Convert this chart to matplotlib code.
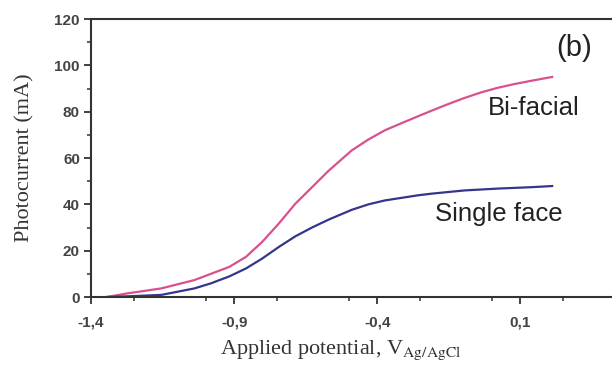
import numpy as np
import matplotlib
matplotlib.use("Agg")
import matplotlib.pyplot as plt
from matplotlib.ticker import MultipleLocator, FixedLocator

# Photocurrent vs applied potential
potential_bi = [-1.345, -1.271, -1.155, -1.039, -0.917, -0.859, -0.802, -0.744,
                -0.686, -0.628, -0.57, -0.49, -0.431, -0.373, -0.316, -0.258,
                -0.211, -0.154, -0.096, -0.038, 0.02, 0.078, 0.136, 0.211]
current_bi = [0.0, 1.6, 3.7, 7.3, 13.0, 17.3, 23.8, 31.7,
              40.3, 47.4, 54.5, 63.2, 68.0, 72.0, 75.0, 78.0,
              80.4, 83.2, 85.9, 88.3, 90.3, 91.9, 93.3, 95.0]

potential_single = [-1.345, -1.271, -1.155, -1.039, -0.981, -0.917, -0.859, -0.802,
                    -0.744, -0.686, -0.628, -0.57, -0.49, -0.431, -0.373, -0.258,
                    -0.211, -0.154, -0.096, 0.02, 0.136, 0.211]
current_single = [0.0, 0.3, 0.9, 3.7, 5.9, 8.9, 12.3, 16.6,
                  21.6, 26.2, 30.0, 33.4, 37.6, 40.0, 41.7, 43.9,
                  44.6, 45.3, 46.0, 46.8, 47.4, 47.9]

x_ticks = [-1.4, -0.9, -0.4, 0.1]
x_ticklabels = ["-1,4", "-0,9", "-0,4", "0,1"]

plt.rcParams['mathtext.fontset'] = 'stix'

fig = plt.figure(figsize=(6.12, 3.66), dpi=100)
ax = fig.add_axes([0.1487, 0.1885, 0.8513, 0.7595])

ax.plot(potential_bi, current_bi, color='#d9508f', lw=1.6)
ax.plot(potential_single, current_single, color='#35358c', lw=1.6)

ax.set_xlim(-1.4, 0.42)
ax.set_ylim(0, 120)

ax.xaxis.set_major_locator(FixedLocator(x_ticks))
ax.set_xticklabels(x_ticklabels)
ax.xaxis.set_minor_locator(MultipleLocator(0.25))
ax.yaxis.set_major_locator(MultipleLocator(20))
ax.yaxis.set_minor_locator(MultipleLocator(10))

ax.tick_params(which='major', direction='out', length=5, width=1.3, colors='#333333',
               labelsize=11, pad=3)
ax.tick_params(which='minor', direction='out', length=3, width=1.1, colors='#333333')
for lab in ax.get_xticklabels() + ax.get_yticklabels():
    lab.set_fontfamily('Liberation Sans')
    lab.set_fontweight('bold')
    lab.set_color('#444444')
ax.tick_params(axis='x', pad=8)

for side in ['left', 'bottom', 'top']:
    ax.spines[side].set_linewidth(1.5)
    ax.spines[side].set_color('#333333')
ax.spines['right'].set_visible(False)

ax.set_ylabel('Photocurrent (mA)', family='Liberation Serif', fontsize=16,
              color='#333333')
ax.yaxis.set_label_coords(-0.109, 0.5)
ax.set_xlabel(r'Applied potential, V$_{\mathrm{Ag/AgCl}}$', family='Liberation Serif',
              fontsize=16, color='#333333')
ax.xaxis.set_label_coords(0.48, -0.15)

ax.text(0.145, 81.7, 'Bi-facial', family='Liberation Sans', fontsize=18.5,
        ha='center', va='center', color='#222222')
ax.text(0.024, 35.7, 'Single face', family='Liberation Sans', fontsize=18.5,
        ha='center', va='center', color='#222222')
ax.text(0.2875, 107.5, '(b)', family='Liberation Sans', fontsize=21,
        ha='center', va='center', color='#222222')

fig.savefig('out.png', dpi=100)
